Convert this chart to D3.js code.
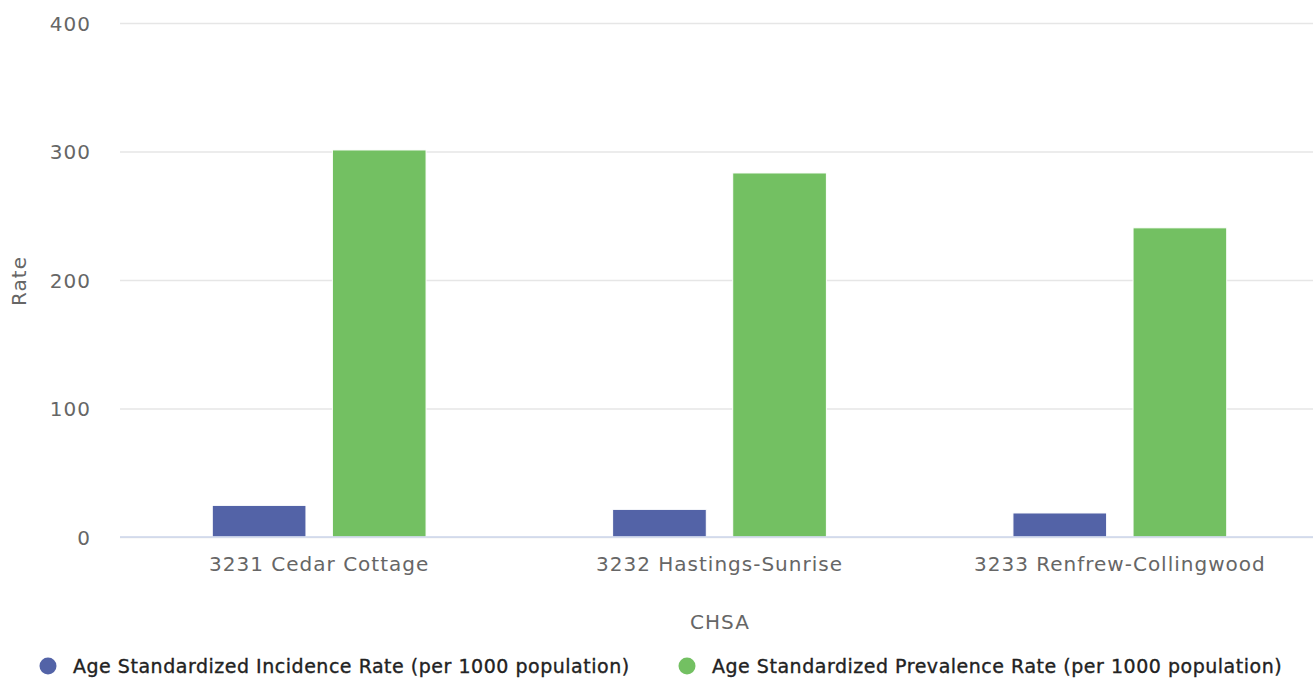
<!DOCTYPE html>
<html><head><meta charset="utf-8">
<script src="https://cdn.jsdelivr.net/npm/d3@7"></script>
<style>body{margin:0;background:#fff}svg{display:block}</style>
</head><body><svg id="c" width="1313" height="679"></svg>
<script>
const categories = ["3231 Cedar Cottage", "3232 Hastings-Sunrise", "3233 Renfrew-Collingwood"];
const seriesNames = ["Age Standardized Incidence Rate (per 1000 population)", "Age Standardized Prevalence Rate (per 1000 population)"];
const incidence = [24.6, 21.5, 18.7];
const prevalence = [301.2, 283.3, 240.6];
const yTicks = [0, 100, 200, 300, 400];
const colors = ["#5363a7", "#73c062"];

const svg = d3.select("#c");
const W = 1313, H = 679;
const m = {left: 120, top: 23, bottom: 142};
const font = "DejaVu Sans, Verdana, sans-serif";

const x = d3.scaleBand().domain(categories).range([119, 1320]).paddingInner(0).paddingOuter(0);
const y = d3.scaleLinear().domain([0, 400]).range([H - m.bottom, m.top]);

// grid
const yAxis = d3.axisLeft(y).tickValues(yTicks).tickSize(-(W - m.left)).tickPadding(29);
const gy = svg.append("g").attr("transform", `translate(${m.left},0)`).call(yAxis);
gy.select(".domain").remove();
gy.selectAll(".tick line").attr("stroke", "#e6e6e6").attr("stroke-width", 1.3);
gy.selectAll(".tick text").attr("fill", "#666").style("font-family", font).style("font-size", "20px")
  .style("letter-spacing", "1px").attr("dy", "0.36em");

// bars: group padding 0.2, point padding 0.1
const data = [incidence, prevalence];
const group = svg.append("g");
categories.forEach((c, i) => {
  const bw = x.bandwidth();
  const gStart = x(c) + bw * 0.2;
  const pW = bw * 0.6 / 2;
  data.forEach((s, j) => {
    group.append("rect")
      .attr("x", gStart + j * pW + pW * 0.11)
      .attr("width", pW * 0.78)
      .attr("y", y(s[i]))
      .attr("height", y(0) - y(s[i]))
      .attr("fill", colors[j])
      .attr("stroke", "#fff").attr("stroke-width", 1);
  });
});

// x axis
const xAxis = d3.axisBottom(x).tickSize(0).tickPadding(20);
const gx = svg.append("g").attr("transform", `translate(0,${y(0)})`).call(xAxis);
gx.select(".domain").attr("stroke", "#ccd6eb").attr("stroke-width", 1.5).attr("d", `M${m.left},0H${W}`);
gx.selectAll(".tick text").attr("fill", "#666").style("font-family", font).style("font-size", "20px")
  .style("letter-spacing", "1px").attr("dy", "0.71em");

// axis titles
svg.append("text").attr("x", 720).attr("y", 629).attr("text-anchor", "middle")
  .attr("fill", "#666").style("font-family", font).style("font-size", "20px").style("letter-spacing", "1px").text("CHSA");
svg.append("text").attr("transform", "translate(26,281) rotate(-90)").attr("text-anchor", "middle")
  .attr("fill", "#666").style("font-family", font).style("font-size", "20px").style("letter-spacing", "1px").text("Rate");

// legend
const legX = [48, 687];
seriesNames.forEach((n, j) => {
  svg.append("circle").attr("cx", legX[j]).attr("cy", 666).attr("r", 8.5).attr("fill", colors[j]);
  svg.append("text").attr("x", legX[j] + 25).attr("y", 673).attr("fill", "#222")
    .attr("stroke", "#222").attr("stroke-width", 0.35)
    .style("font-family", font).style("font-size", "19px").style("letter-spacing", "0.52px").text(n);
});
</script></body></html>
